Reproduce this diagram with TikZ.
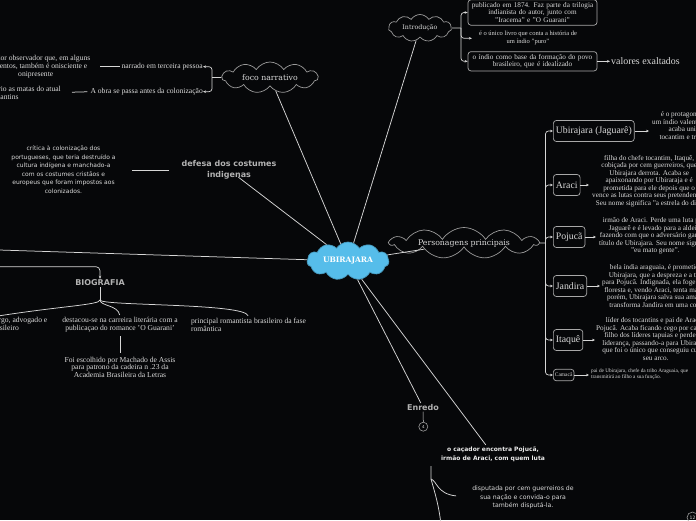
\documentclass[tikz,border=0pt]{standalone}
\usepackage{fontspec}
\setmainfont{Liberation Serif}
\newfontfamily\dvsans{DejaVu Sans}
\newfontfamily\slab{DejaVu Serif}
\usetikzlibrary{shapes.symbols,arrows.meta,calc}
\definecolor{bg}{HTML}{060709}
\definecolor{ubiblue}{HTML}{56BDEA}
\definecolor{cloudgray}{HTML}{9A9A9A}
\definecolor{linec}{HTML}{D6D6D6}
\definecolor{txt}{HTML}{DADADA}
\definecolor{head}{HTML}{B2B2B2}
\definecolor{boxc}{HTML}{A8A8A8}
\newcommand{\myfs}[2]{\fontsize{#1}{#2}\selectfont}
\tikzset{
 conn/.style={draw=linec, line width=0.75pt},
 brk/.style={draw=linec, line width=0.7pt, rounded corners=3pt},
 tip/.style={-{Stealth[length=3pt,width=2.6pt]}},
 sertxt/.style={text=txt, font=\myfs{7.6}{7.8}, align=center, inner sep=0pt},
 perstxt/.style={text=txt, font=\myfs{7.2}{7.5}, align=center, inner sep=0pt, anchor=west},
 sanstxt/.style={text=txt, font=\dvsans\myfs{6}{8.6}, align=center, inner sep=0pt},
 heading/.style={text=head, font=\dvsans\bfseries\myfs{8}{11.4}, align=center, inner sep=1pt},
 pbox/.style={draw=boxc, rounded corners=3pt, line width=0.7pt, fill=bg, text=txt, font=\myfs{9.8}{11}, minimum height=21pt, inner xsep=2.5pt, inner ysep=0pt, anchor=west},
 ibox/.style={draw=boxc, rounded corners=3pt, line width=0.7pt, fill=bg, text=txt, font=\myfs{7.2}{7.7}, align=center, text width=126pt, inner xsep=1.5pt, inner ysep=2.5pt},
 cloudnode/.style={cloud, cloud puffs=11, cloud puff arc=115, cloud ignores aspect, draw=cloudgray, fill=bg, line width=0.7pt, inner sep=0pt, text=txt},
 numc/.style={circle, draw=cloudgray, line width=0.6pt, inner sep=0pt, text=txt},
}
\begin{document}
\begin{tikzpicture}[x=1pt,y=-1pt]
\fill[bg] (0,0) rectangle (696,520);
\useasboundingbox (0,0) rectangle (696,520);
\begin{scope}
\clip (0,0) rectangle (696,520);

% main clouds
\node[cloudnode, fill=ubiblue, draw=ubiblue!80!black, minimum width=82pt, minimum height=38pt, font=\slab\bfseries\myfs{7.5}{9}, text=white] (ubi) at (348,261) {UBIRAJARA};
\node[cloudnode, minimum width=63pt, minimum height=27pt, font=\slab\myfs{6.3}{8}] (intro) at (420,28) {Introdução};
\node[cloudnode, minimum width=96pt, minimum height=31pt, font=\slab\myfs{7.8}{9}] (foco) at (270,77.5) {foco narrativo};
\node[cloudnode, minimum width=148pt, minimum height=31pt, font=\slab\myfs{7.8}{9}] (pers) at (464,243) {Personagens principais};

% Introducao
\node[ibox] (ib1) at (532.5,12.5) {publicado em 1874. Faz parte da trilogia\\ indianista do autor, junto com\\ "Iracema" e "O Guarani"};
\node[sertxt, font=\myfs{6.5}{8}] (it2) at (528,38.3) {é o único livro que conta a história de\\ um índio "puro"};
\node[ibox] (ib3) at (532.5,61.3) {o índio como base da formação do povo\\ brasileiro, que é idealizado};
\node[text=txt, font=\myfs{9.9}{11}, inner sep=0pt, anchor=west] (valx) at (611,61.3) {valores exaltados};
\coordinate (ij) at (461,28);
\draw[brk] (intro.east) -- (ij);
\draw[brk, tip] (ij) |- (ib1.west);
\draw[brk, tip, shorten >=7pt] (ij) |- (it2.west);
\draw[brk, tip] (ij) |- (ib3.west);
\draw[conn, tip, shorten >=1pt] (ib3.east) -- (valx.west);

% foco narrativo
\coordinate (fj) at (212,77.5);
\node[sertxt, anchor=east] (narr) at (203,66.7) {narrado em terceira pessoa};
\node[sertxt, anchor=east] (obra) at (203,91.7) {A obra se passa antes da colonização};
\draw[brk] (foco.west) -- (fj);
\draw[brk, tip] (fj) |- (narr.east);
\draw[brk, tip] (fj) |- (obra.east);
\node[sertxt, anchor=east] (obs) at (90.5,66.7) {narrador observador que, em alguns\\ momentos, também é onisciente e\\ onipresente};
\node[sertxt, anchor=east] (mata) at (61,92.5) {tendo como cenário as matas do atual\\ Tocantins};
\draw[conn, shorten <=1.5pt, shorten >=9.5pt] (narr.west) -- (obs.east);
\draw[conn, shorten <=3pt, shorten >=11pt] (obra.west) -- (mata.east);

% defesa
\node[heading] (def) at (229,170) {defesa dos costumes\\ indigenas};
\node[sanstxt] (crit) at (63.5,169.7) {crítica à colonização dos\\ portugueses, que teria destruído a\\ cultura indígena e manchado-a\\ com os costumes cristãos e\\ europeus que foram impostos aos\\ colonizados.};
\draw[conn, shorten <=11pt, shorten >=16pt] (def.west) -- (crit.east |- def.west);

% biografia
\coordinate (bioin) at (-10,266.7);
\node[heading] (bio) at (100,283) {BIOGRAFIA};
\draw[brk, rounded corners=4pt, tip] (bioin) -| (bio.north);
\coordinate (bj) at (100,300);
\node[sertxt] (bl) at (-8,324.5) {romancista, dramaturgo, advogado e\\ político brasileiro};
\node[sertxt] (bm) at (120,324.5) {destacou-se na carreira literária com a\\ publicaçao do romance 'O Guarani'};
\node[sertxt, align=left] (br) at (248.5,324.5) {principal romantista brasileiro da fase\\ romântica};
\node[sertxt] (bf) at (120,367.3) {Foi escolhido por Machado de Assis\\ para patrono da cadeira n .23 da\\ Academia Brasileira da Letras};
\draw[conn] (bio.south) -- (bj);
\draw[conn] (bj) .. controls (100,305) and (60,306) .. (bl.north);
\draw[conn, shorten >=2pt] (bj) .. controls (100,306) and (118,305) .. (bm.north);
\draw[conn, shorten >=2pt] (bj) .. controls (100,306) and (245,303) .. (br.north);
\draw[conn, shorten <=4pt, shorten >=4pt] (bm.south) -- (bf.north);

% personagens
\coordinate (pj) at (545.5,243);
\node[pbox] (pub) at (553,131) {Ubirajara (Jaguarê)};
\node[pbox] (par) at (553,185) {Araci};
\node[pbox] (ppo) at (553,237) {Pojucã};
\node[pbox] (pja) at (553,286) {Jandira};
\node[pbox] (pit) at (553,340) {Itaquê};
\node[pbox, font=\myfs{5.5}{6}, minimum height=11.5pt, inner xsep=1.5pt] (pca) at (553,375) {Camacã};
\draw[brk] (pers.east) -- (pj);
\foreach \b in {pub,par,ppo,pja,pit,pca} \draw[brk, tip] (pj) |- (\b.west);

\node[perstxt] (tub) at (652,125.5) {é o protagonista da história,\\ um índio valente e destemido que\\ acaba unindo as tribos\\ tocantim e transformando-as};
\node[perstxt] (tar) at (592,181) {filha do chefe tocantim, Itaquê,\\ cobiçada por cem guerreiros, que\\ Ubirajara derrota. Acaba se\\ apaixonando por Ubiraraja e é\\ prometida para ele depois que o\\ vence as lutas contra seus pretendentes.\\ Seu nome significa "a estrela do dia"};
\node[perstxt] (tpo) at (599,236) {irmão de Araci. Perde uma luta para\\ Jaguarê e é levado para a aldeia,\\ fazendo com que o adversário ganhe o\\ título de Ubirajara. Seu nome significa\\ "eu mato gente".};
\node[perstxt] (tja) at (602,286) {bela índia araguaia, é prometida a\\ Ubirajara, que a despreza e a troca\\ para Pojucã. Indignada, ela foge para a\\ floresta e, vendo Araci, tenta matá-la,\\ porém, Ubirajara salva sua amada e\\ transforma Jandira em uma cobra.};
\node[perstxt] (tit) at (596,339) {líder dos tocantins e pai de Araci e\\ Pojucã. Acaba ficando cego por causa do\\ filho dos líderes tapuias e perde sua\\ liderança, passando-a para Ubirajara,\\ que foi o único que conseguiu curvar\\ seu arco.};
\node[perstxt, align=left, font=\myfs{5.3}{5.8}] (tca) at (591,374) {pai de Ubirajara, chefe da tribo Araguaia, que\\ transmitirá ao filho a sua função.};
\draw[conn, tip, shorten >=3pt] (pub.east) -- (pub.east -| tub.west);
\draw[conn, tip, shorten >=3pt] (par.east) -- (par.east -| tar.west);
\draw[conn, tip, shorten >=3pt] (ppo.east) -- (ppo.east -| tpo.west);
\draw[conn, tip, shorten >=2pt] (pja.east) -- (pja.east -| tja.west);
\draw[conn, tip, shorten >=1pt] (pit.east) -- (pit.east -| tit.west);
\draw[conn, tip, shorten >=2pt] (pca.east) -- (pca.east -| tca.west);

% enredo
\node[heading] (enr) at (423,407.3) {Enredo};
\node[numc, minimum size=9pt, font=\dvsans\myfs{4}{4}] (n4) at (423.3,426.7) {4};
\draw[conn, line width=0.5pt] (enr.south) -- (n4.north);

\node[text=white!92!black, font=\dvsans\bfseries\myfs{6}{9}, align=center, inner sep=2pt] (cac) at (493,454.5) {o caçador encontra Pojucã,\\ irmão de Araci, com quem luta};
\node[sanstxt, font=\dvsans\myfs{6.2}{8.6}] (disp) at (523,497.5) {disputada por cem guerreiros de\\ sua nação e convida-o para\\ também disputá-la.};
\coordinate (cj1) at (431,466);
\coordinate (cj2) at (431,479);
\coordinate (cdown) at (441,525);
\draw[conn, shorten >=16pt] (cj1) -- (cj2) .. controls (437,481) and (437,494) .. (disp.west);
\draw[conn] (cj2) .. controls (434,490) and (439,505) .. (cdown);

\node[numc, minimum size=11pt, font=\dvsans\myfs{4.5}{5}] (n12) at (692.5,517.5) {12};

% main connectors
\coordinate (offl) at (-20,249.4);
\draw[conn] (ubi) -- (intro);
\draw[conn] (ubi) -- (foco);
\draw[conn, shorten >=-6pt] (ubi) -- (def);
\draw[conn] (ubi) -- (offl);
\draw[conn] (ubi) -- (pers);
\draw[conn] (ubi) -- (enr);
\draw[conn] (ubi) -- (cac);
\end{scope}
\end{tikzpicture}
\end{document}
